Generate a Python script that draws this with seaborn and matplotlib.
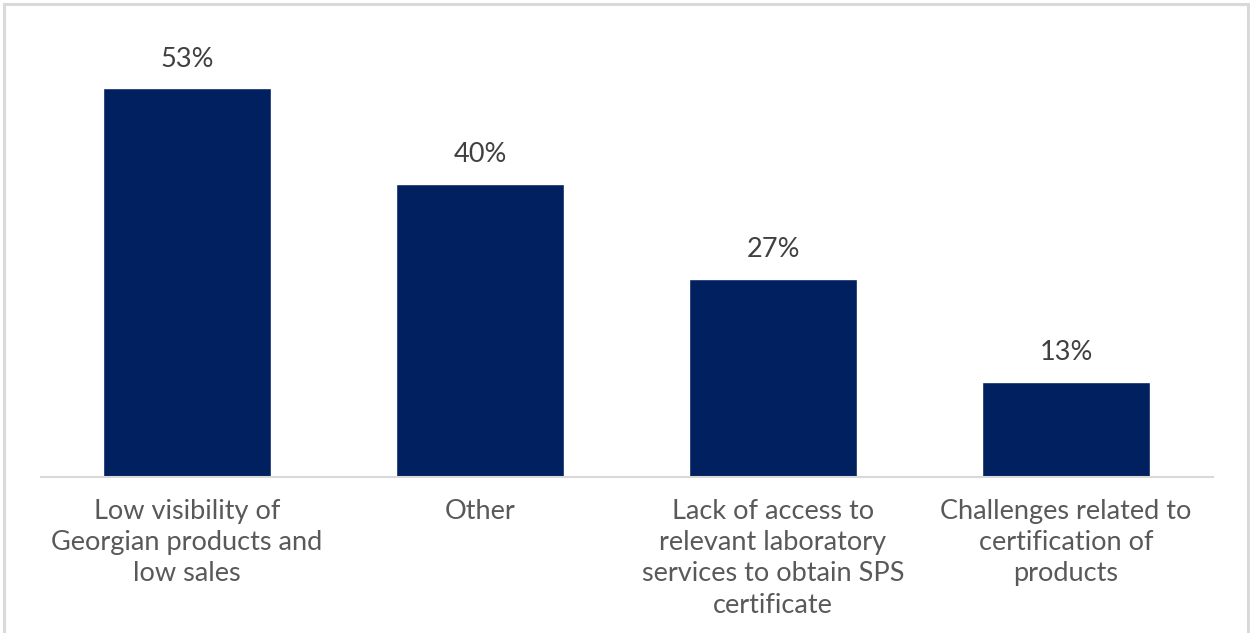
import matplotlib
matplotlib.use("Agg")
import matplotlib.pyplot as plt
from matplotlib.patches import Rectangle
import seaborn as sns
import pandas as pd

categories = [
    "Low visibility of\nGeorgian products and\nlow sales",
    "Other",
    "Lack of access to\nrelevant laboratory\nservices to obtain SPS\ncertificate",
    "Challenges related to\ncertification of\nproducts",
]
shares = [53, 40, 27, 13]
value_labels = ["53%", "40%", "27%", "13%"]

df = pd.DataFrame({"category": categories, "share": shares})

sns.set_theme(style="white")
plt.rcParams["font.family"] = ["Lato", "DejaVu Sans"]

fig = plt.figure(figsize=(12.5, 6.33), dpi=100)
ax = fig.add_axes([40.5 / 1250, 1 - 477 / 633, (1212.5 - 40.5) / 1250, (477 - 37) / 633])

sns.barplot(data=df, x="category", y="share", color="#002060", saturation=1,
            width=0.573, ax=ax)

ax.set_ylim(0, 60)
ax.set_xlim(-0.5, len(categories) - 0.5)
ax.set_xlabel("")
ax.set_ylabel("")
ax.set_yticks([])

for spine in ["top", "right", "left"]:
    ax.spines[spine].set_visible(False)
ax.spines["bottom"].set_color("#d9d9d9")
ax.spines["bottom"].set_linewidth(1.5)

ax.tick_params(axis="x", length=0, pad=15.5, labelsize=19.5, labelcolor="#595959")
for lbl in ax.get_xticklabels():
    lbl.set_multialignment("center")
    lbl.set_linespacing(1.32)

for bar, txt in zip(ax.patches, value_labels):
    ax.annotate(txt, (bar.get_x() + bar.get_width() / 2, bar.get_height()),
                xytext=(0, 12), textcoords="offset points",
                ha="center", va="bottom", fontsize=19.5, color="#404040")

# light frame around the whole figure
fig.patches.append(Rectangle((4 / 1250, -0.02), 1244 / 1250, 1.02 - 4 / 633,
                             transform=fig.transFigure, fill=False,
                             edgecolor="#d9d9d9", linewidth=2.2))

fig.savefig("out.png", dpi=100, facecolor="white")
